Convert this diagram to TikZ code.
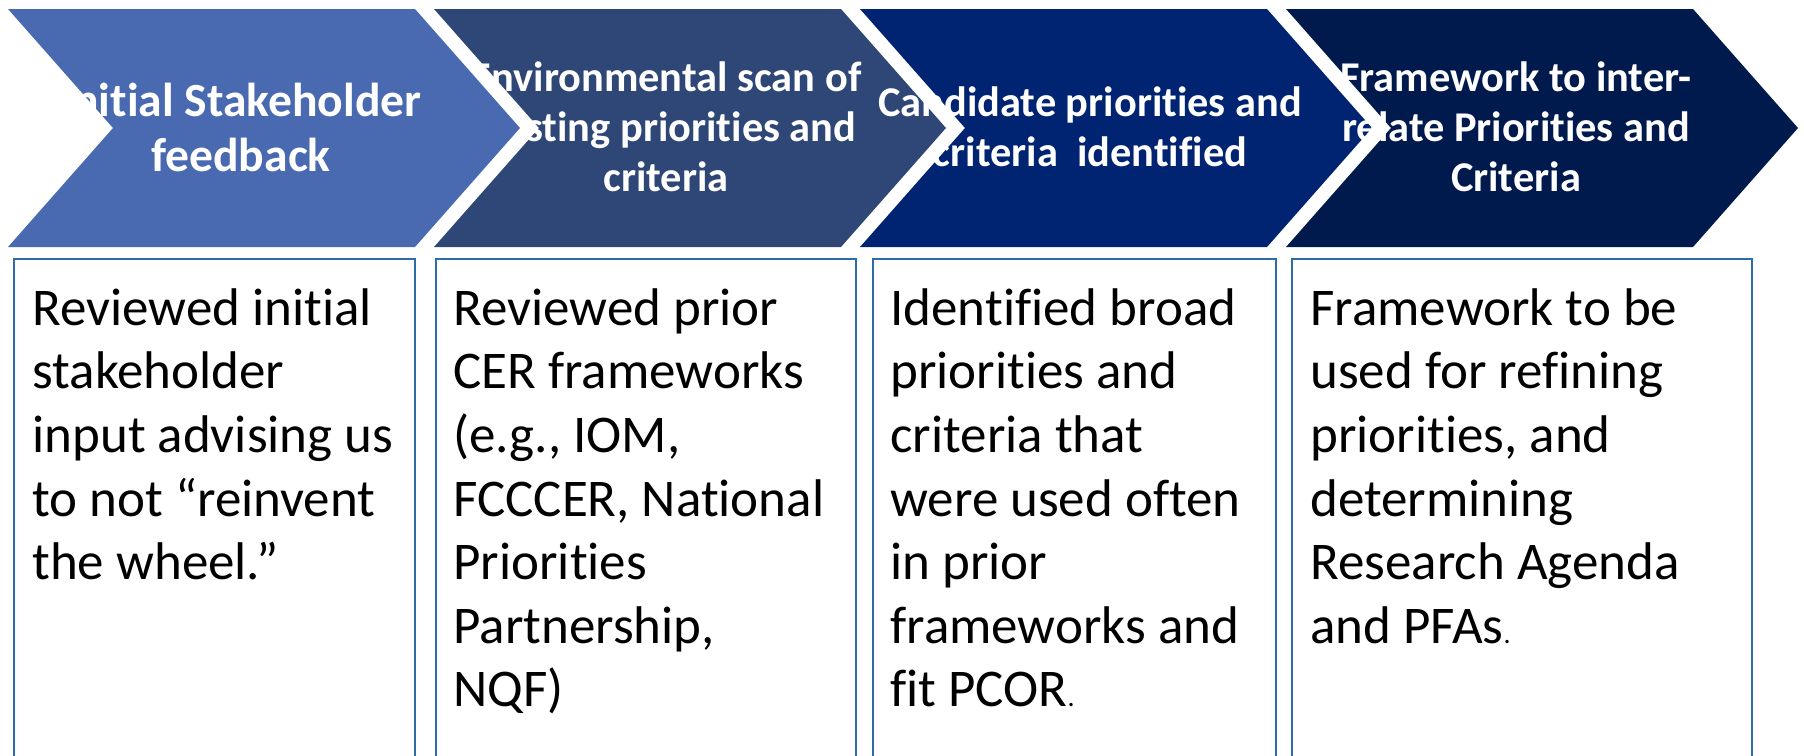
\documentclass[tikz,border=0pt]{standalone}
\usepackage{fontspec}
\setmainfont{Carlito}[Ligatures={NoCommon}]

\definecolor{stepA}{HTML}{496AB0}
\definecolor{stepB}{HTML}{2F4776}
\definecolor{stepC}{HTML}{002471}
\definecolor{stepD}{HTML}{001A4D}
\definecolor{boxline}{HTML}{2E6CA5}

\newcommand\chevronStep[2]{
  \fill[#2] (#1, 9) -- ++ (407, 0) -- ++ (105, 119) -- ++ (-105, 119) -- ++ (-407, 0) -- ++ (105, -119) -- cycle ;
}

\tikzset{
  steptext/.style={text=white, align=center, inner sep=0pt, font=\fontsize{21.2}{25}\selectfont\bfseries},
  infotext/.style={anchor=north west, align=left, inner sep=0pt, font=\fontsize{26.5}{31.8}\selectfont},
  infobox/.style={draw=boxline, line width=1.25pt},
}

\begin{document}
\begin{tikzpicture}[x=0.5pt, y=-0.5pt]
  \useasboundingbox (0, 0) rectangle (1804, 755) ;
  % chevrons 2 to 4 first, the first one lies on top
  \chevronStep{434}{stepB}
  \chevronStep{860}{stepC}
  \chevronStep{1286}{stepD}
  \node[steptext] (scan) at (666, 127) {Environmental scan of\\existing priorities and\\criteria} ;
  \node[steptext] (cand) at (1090, 127) {Candidate priorities and\\criteria\ \ identified} ;
  \node[steptext] (frame) at (1516, 127) {Framework to inter-\\relate Priorities and\\Criteria} ;
  \chevronStep{8}{stepA}
  \node[steptext, font=\fontsize{23.8}{27.5}\selectfont\bfseries] (feed) at (241, 127) {Initial Stakeholder\\feedback} ;

  % boxes below, open at the bottom
  \draw[infobox] (14, 259) rectangle (415, 790) ;
  \draw[infobox] (436, 259) rectangle (856, 790) ;
  \draw[infobox] (873, 259) rectangle (1276, 790) ;
  \draw[infobox] (1292, 259) rectangle (1752, 790) ;
  \node[infotext] (input) at (32, 288) {Reviewed initial\\stakeholder\\input advising us\\to not “reinvent\\the wheel.”} ;
  \node[infotext] (prior) at (453, 288) {Reviewed prior\\CER frameworks\\(e.g., IOM,\\FCCCER, National\\Priorities\\Partnership,\\NQF)} ;
  \node[infotext] (broad) at (890, 288) {Identified broad\\priorities and\\criteria that\\were used often\\in prior\\frameworks and\\fit PCOR{\fontsize{14}{14}\selectfont .}} ;
  \node[infotext] (refine) at (1310, 288) {Framework to be\\used for refining\\priorities, and\\determining\\Research Agenda\\and PFAs{\fontsize{14}{14}\selectfont .}} ;
\end{tikzpicture}
\end{document}
